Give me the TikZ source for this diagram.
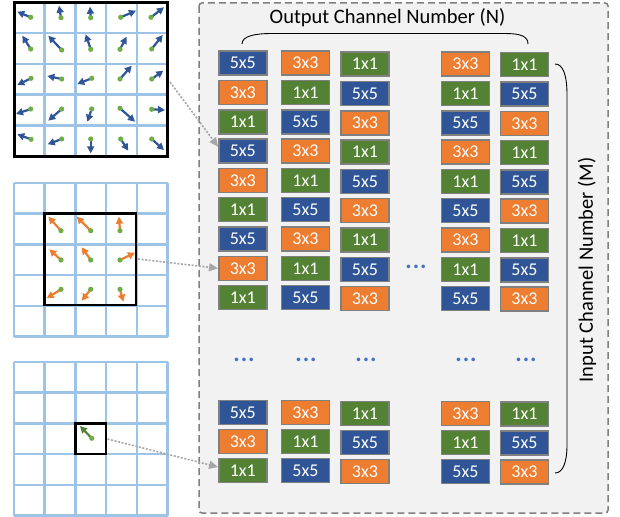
\documentclass[tikz,border=0pt]{standalone}
\usepackage{fontspec}
\setmainfont{Carlito}
\usetikzlibrary{arrows.meta}
\definecolor{kblue}{HTML}{2F5597}
\definecolor{korange}{HTML}{ED7D31}
\definecolor{kgreen}{HTML}{548235}
\definecolor{kdot}{HTML}{70AD47}
\definecolor{kgrid}{HTML}{9DC3E6}
\definecolor{kborder}{HTML}{808080}
\definecolor{kpanel}{HTML}{F2F2F2}
\definecolor{kconn}{HTML}{A6A6A6}
\definecolor{kell}{HTML}{4472C4}
\tikzset{
  kbox/.style={rectangle, draw=kborder, line width=1.5pt, minimum width=48pt, minimum height=24pt,
    inner sep=0pt, text=white, font=\fontsize{18}{18}\selectfont},
  k0/.style={fill=kblue}, k1/.style={fill=korange}, k2/.style={fill=kgreen},
  gl/.style={draw=kgrid, line width=2.5pt},
  vec/.style={line width=2.2pt, -{Triangle[length=7pt,width=7pt]}},
  vdot/.style={fill=kdot},
  conn/.style={draw=kconn, line width=1.6pt, dash pattern=on 2pt off 1.6pt,
    -{Triangle[length=9pt,width=8pt]}},
  brace/.style={draw=black, line width=0.9pt},
  ell/.style={text=kell, font=\bfseries\fontsize{24}{24}\selectfont, inner sep=0pt},
  lab/.style={font=\fontsize{20.5}{20.5}\selectfont, inner sep=0pt}
}
\newcommand{\klabel}[1]{\ifcase#1\relax 5x5\or 3x3\or 1x1\fi}
\begin{document}
\begin{tikzpicture}[x=1pt, y=-1pt]
\useasboundingbox (0,0) rectangle (620,516);
% panel
\draw[draw=kborder, fill=kpanel, line width=1.5pt, dash pattern=on 7pt off 4pt, rounded corners=3pt]
  (199,3) rectangle (608,513);
% grids
\foreach \yo in {2.5,183,362} {
  \foreach \i in {0,...,5} {
    \draw[gl] (14+\i*30.7, \yo) -- (14+\i*30.7, \yo+153.5);
    \draw[gl] (14, \yo+\i*30.7) -- (167.5, \yo+\i*30.7);
  }
}
\draw[line width=3pt] (14,2.5) rectangle (167.5,156);
\draw[line width=2.6pt] (44.7,213.7) rectangle (136.1,305.1);
\draw[line width=2.6pt] (75.4,423.4) rectangle (106.1,454.1);
% grid 1 vectors
\foreach \a/\b/\c/\d in {
  30.7/17.3/17.3/11.7, 61/17.7/59/5.7, 90.7/17.7/90/6.7, 120.7/17.3/136/10.7, 151/17.3/164/7.3,
  30.7/49/22.3/35.7, 61.7/50/48.3/35.7, 90.7/49.3/85.7/34.3, 120/49.3/126.7/36.7, 151.7/49/162.7/35,
  31/78.3/17.3/85, 61.7/79/47.3/76, 91.7/78.3/77.3/84, 120/79/131.7/65.7, 151.7/79/163.3/70.7,
  30.7/109/16/114, 61.7/109/48.3/120.7, 91.7/109/87.3/121.7, 120/108.3/135/121.7, 151.7/109.3/165/110,
  31/139.3/17.3/134.3, 61.7/139/47.7/144.3, 90.7/139/90.7/153.3, 120.7/139/128.3/150.7, 151.7/139/164/150} {
  \draw[vec, kblue] (\a,\b) -- (\c,\d);
  \fill[vdot] (\a,\b) circle (2.6pt);
}
% grid 2 vectors
\foreach \a/\b/\c/\d in {
  61/230.7/48.3/216.7, 90.7/230.7/76.7/216.7, 120/230.7/119/216.7,
  61/260/49.3/249.3, 90.7/260/81.7/247.3, 120/260/135/252.7,
  61/289.3/46.7/298.3, 90.7/289.3/81.7/300.7, 120/289.3/123.3/301.7} {
  \draw[vec, korange] (\a,\b) -- (\c,\d);
  \fill[vdot] (\a,\b) circle (2.6pt);
}
% grid 3 vector
\draw[vec, kgreen] (91.7,438.3) -- (80,426);
\fill[vdot] (91.7,438.3) circle (2.6pt);
% boxes
\foreach \c/\x/\s/\dy in {1/242.8/0/0, 2/305.5/1/0, 3/365/2/1, 4/465.5/1/1, 5/524.5/2/1.5} {
  \foreach \r in {0,...,8} {
    \pgfmathtruncatemacro\kt{mod(\s+\r,3)}
    \node[kbox, k\kt] (b\r-\c) at (\x, 63.2+29.3*\r+\dy) {\klabel{\kt}};
  }
  \foreach \r in {0,1,2} {
    \pgfmathtruncatemacro\kt{mod(\s+\r,3)}
    \node[kbox, k\kt] (c\r-\c) at (\x, 412.5+29*\r+\dy) {\klabel{\kt}};
  }
}
% ellipses
\foreach \x/\n in {244/1,306/2,366/3,466/4,526/5} {
  \node[ell] (e\n) at (\x,359.5) {.\kern1pt.\kern1pt.};
}
\node[ell] (em) at (416,266.5) {.\kern1pt.\kern1pt.};
% connectors
\coordinate (s1) at (170,82);
\coordinate (s2) at (138,259);
\coordinate (s3) at (107.5,439);
\draw[conn] (s1) -- (b3-1.170);
\draw[conn] (s2) -- (b7-1.west);
\draw[conn] (s3) -- (c2-1.172);
% braces
\draw[brace] (242,44) .. controls (242,36) and (255,33.5) .. (272,33.5) -- (505,33.5)
  .. controls (520,33.5) and (528,36) .. (528,44);
\draw[brace] (555,64) .. controls (563,64) and (567,75) .. (567,95) -- (567,445)
  .. controls (567,462) and (563,473) .. (555,473);
\node[lab] (tn) at (387.5,18) {Output Channel Number (N)};
\node[lab, rotate=90] (tm) at (587,270) {Input Channel Number (M)};
\end{tikzpicture}
\end{document}
